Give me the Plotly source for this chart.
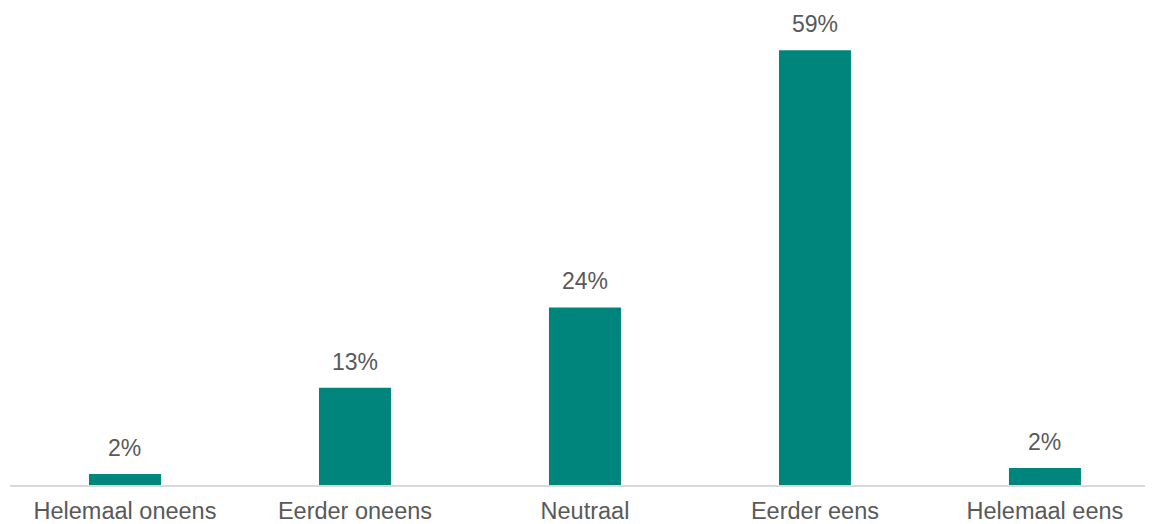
import plotly.graph_objects as go

categories = ["Helemaal oneens", "Eerder oneens", "Neutraal", "Eerder eens", "Helemaal eens"]
values = [0.015, 0.132, 0.241, 0.59, 0.023]
labels = ["2%", "13%", "24%", "59%", "2%"]

FONT = "Liberation Sans, Arial, sans-serif"
GREY = "#595959"

fig = go.Figure()
fig.add_trace(go.Bar(
    x=categories, y=values,
    marker=dict(color="#00857C", line=dict(width=0)),
    hoverinfo="skip",
))
for c, v, t in zip(categories, values, labels):
    fig.add_annotation(x=c, y=v, text=t, showarrow=False, yanchor="bottom",
                       yshift=11, font=dict(family=FONT, size=23, color=GREY))

fig.update_layout(
    width=1155, height=524,
    margin=dict(l=10, r=10, t=6, b=39),
    paper_bgcolor="white", plot_bgcolor="white",
    bargap=0.687,
    showlegend=False,
    font=dict(family=FONT, size=23, color=GREY),
)
fig.update_xaxes(showline=True, linecolor="#D9D9D9", linewidth=1.5, ticks="",
                 tickfont=dict(family=FONT, size=23.5, color=GREY), showgrid=False,
                 automargin=False, range=[-0.5, 4.435], ticklabelstandoff=4)
fig.update_yaxes(range=[0, 0.65], visible=False, showgrid=False, zeroline=False,
                 automargin=False)

fig.write_html("out.html")
